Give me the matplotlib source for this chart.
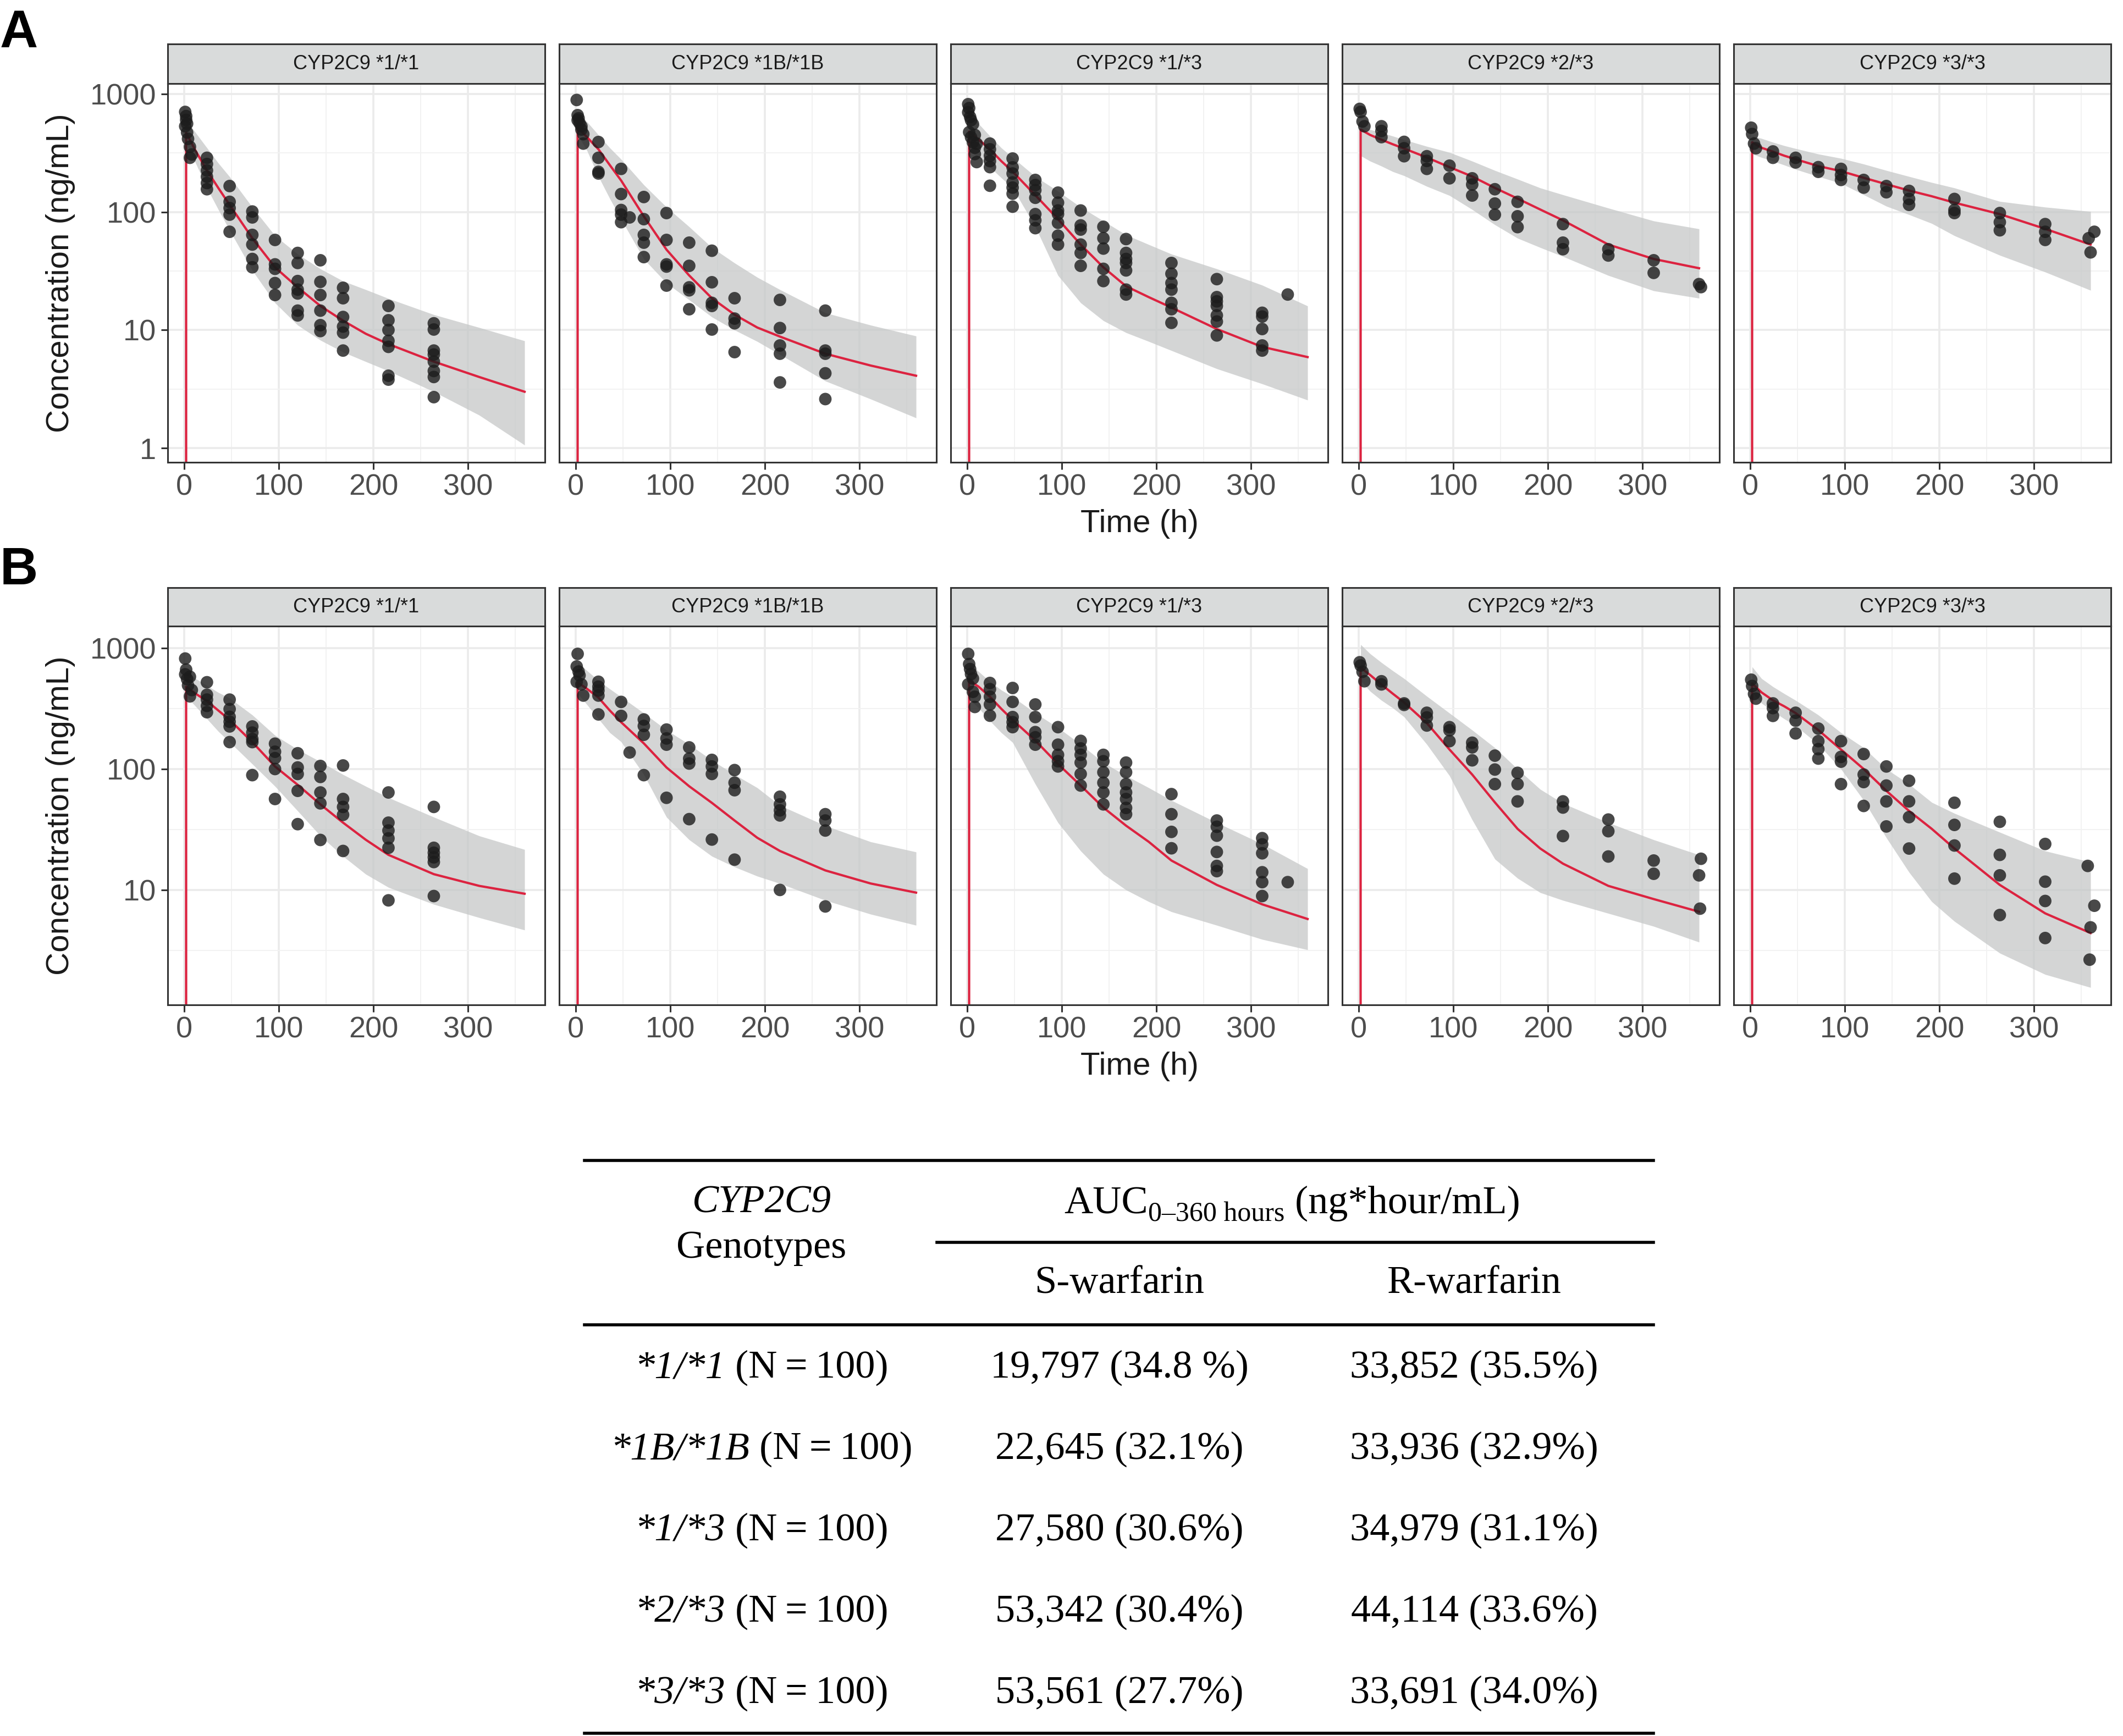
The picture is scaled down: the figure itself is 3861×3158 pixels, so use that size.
import matplotlib
matplotlib.use('Agg')
import matplotlib.pyplot as plt
from matplotlib.lines import Line2D
from matplotlib.ticker import FixedLocator, NullFormatter

plt.rcParams['font.family'] = ['Liberation Sans', 'DejaVu Sans']

# ---------------- data ----------------
GENOTYPES = ['CYP2C9 *1/*1', 'CYP2C9 *1B/*1B', 'CYP2C9 *1/*3', 'CYP2C9 *2/*3', 'CYP2C9 *3/*3']
X_TICKS = [0, 100, 200, 300]
X_MINOR = [50, 150, 250, 350]
Y_TICKS = [1, 10, 100, 1000]
Y_TICK_LABELS = ['1', '10', '100', '1000']
Y_MINOR = [10 ** -0.5, 10 ** 0.5, 10 ** 1.5, 10 ** 2.5, 10 ** 3.5]

CURVE_T = [0, 2, 12, 24, 36, 48, 72, 96, 120, 144, 168, 192, 216, 264, 312, 360]

# ---- Panel A (S-warfarin) ----
A1_OBS_T = [1, 2, 1, 3, 4, 6, 8, 6, 2, 3] + [24] * 6 + [48] * 5 + [72] * 6 + [96] * 5 + [120] * 7 + [144] * 6 + [168] * 6 + [216] * 7 + [264] * 8
A1_OBS_C = [705, 603, 533, 472, 417, 357, 307, 288, 650, 560, 288, 255, 225, 199, 176, 156, 166, 122, 108, 95, 68,
            101, 90, 64, 53, 40, 34, 58, 36, 33, 25, 19.8, 45, 37, 26, 22, 20.4, 14.6, 13.3, 39, 25.6, 19.8, 14.6, 11, 9.8,
            22.8, 18.6, 12.9, 10.7, 9.5, 6.7, 16, 12.1, 10, 8.1, 7.2, 4.1, 3.8, 11.4, 10.1, 6.7, 6.2, 5.4, 4.5, 4.0, 2.7]
A1_MED = [0, 470, 330, 225, 160, 115, 60, 34, 23, 16, 12, 9.3, 7.6, 5.4, 4.0, 3.0]
A1_LO = [380, 260, 160, 105, 70, 32, 17, 11, 8.2, 6.5, 5.4, 4.5, 3.0, 1.9, 1.06]
A1_HI = [600, 470, 350, 260, 199, 110, 63, 44, 33, 26, 22, 18.5, 13.5, 10.5, 8.1]

A2_OBS_T = [1, 2, 3, 4, 6, 8, 8, 2, 6] + [24] * 4 + [48] * 5 + [57] + [72] * 5 + [96] * 5 + [120] * 5 + [144] * 5 + [168] * 4 + [216] * 5 + [264] * 5
A2_OBS_C = [890, 662, 622, 568, 533, 457, 380, 600, 500, 392, 288, 219, 212, 232, 142, 104, 95, 82, 90,
            134, 87, 64, 55, 41.5, 98, 58, 36, 34.5, 23.8, 55, 35, 23, 21.7, 15, 47, 25.4, 17, 16, 10.1,
            18.6, 12.5, 11.4, 6.5, 18, 10.4, 7.4, 6.3, 3.6, 14.6, 6.7, 6.3, 4.3, 2.6]
A2_MED = [0, 520, 430, 340, 250, 185, 92, 48, 29, 18.6, 13.5, 10.5, 8.8, 6.3, 5.0, 4.1]
A2_LO = [450, 330, 200, 130, 87, 40, 25, 18, 12.9, 10, 8, 6.2, 3.7, 2.6, 1.8]
A2_HI = [680, 580, 450, 350, 280, 170, 110, 75, 50, 37, 28, 22, 14, 11, 8.9]

A3_OBS_T = [1, 2, 1, 3, 4, 6, 2, 4, 6, 8, 8, 10, 8, 10] + [24] * 6 + [48] * 7 + [72] * 7 + [96] * 7 + [120] * 6 + [144] * 5 + [168] * 7 + [216] * 7 + [264] * 7 + [312] * 5 + [339]
A3_OBS_C = [820, 760, 700, 640, 600, 555, 475, 430, 390, 350, 310, 265, 450, 380, 380, 340, 300, 270, 240, 167,
            284, 239, 212, 178, 161, 143, 111, 187, 169, 153, 132, 96, 85, 73, 146, 120, 103, 96, 81, 63, 53,
            103, 77, 71, 53, 45, 35, 75, 60, 49, 33, 26, 59, 45, 40, 37, 32, 22, 20, 37, 30, 25, 22, 17, 15, 11.5,
            27, 19, 17.5, 16, 13.3, 11.8, 9, 14, 13, 10.2, 7.4, 6.7, 20]
A3_MED = [0, 480, 411, 340, 270, 220, 139, 87, 53, 34, 23.5, 19, 15.5, 10.2, 7.2, 5.9]
A3_LO = [330, 290, 240, 195, 160, 75, 29, 17, 12, 9.5, 8.0, 6.7, 4.7, 3.5, 2.55]
A3_HI = [700, 560, 440, 350, 290, 200, 150, 110, 84, 64, 53, 44, 33, 24, 16]

A4_OBS_T = [1, 2, 4, 6] + [24] * 3 + [48] * 3 + [72] * 3 + [96] * 2 + [120] * 3 + [144] * 3 + [168] * 3 + [216] * 3 + [264] * 2 + [312] * 2 + [360, 362]
A4_OBS_C = [748, 705, 585, 533, 533, 486, 431, 393, 347, 297, 297, 271, 232, 247, 193, 193, 171, 138, 156, 118, 95,
            122, 92, 74.5, 79, 55, 48.4, 48.4, 42.8, 39, 30.5, 24.5, 23.1]
A4_MED = [0, 500, 450, 410, 375, 345, 290, 240, 200, 160, 130, 105, 85, 53, 40, 33.4]
A4_LO = [300, 270, 245, 220, 203, 165, 138, 105, 78, 60, 50, 42, 29, 21.5, 18.6]
A4_HI = [560, 500, 470, 440, 410, 360, 320, 270, 225, 190, 160, 140, 108, 84, 72]

A5_OBS_T = [1, 2, 4, 6] + [24] * 2 + [48] * 2 + [72] * 2 + [96] * 3 + [120] * 2 + [144] * 2 + [168] * 3 + [216] * 3 + [264] * 3 + [312] * 3 + [358, 360, 364]
A5_OBS_C = [518, 458, 380, 347, 326, 288, 288, 263, 240, 219, 232, 206, 187, 187, 161, 166, 147, 151, 129, 115,
            129, 104, 98, 98, 82, 70, 79, 68, 58, 60, 45.5, 68]
A5_MED = [0, 390, 350, 325, 300, 280, 245, 222, 195, 172, 152, 136, 120, 96, 72, 53]
A5_LO = [310, 290, 270, 250, 230, 200, 175, 140, 112, 95, 80, 63, 43, 31, 21.7]
A5_HI = [440, 420, 390, 365, 345, 310, 285, 255, 225, 200, 178, 160, 123, 110, 101]

# ---- Panel B (R-warfarin) ----
B1_OBS_T = [1, 2, 1, 3, 4, 6, 6, 8] + [24] * 5 + [48] * 6 + [72] * 5 + [96] * 5 + [120] * 5 + [144] * 5 + [168] * 5 + [216] * 6 + [264] * 6
B1_OBS_C = [820, 664, 607, 554, 492, 399, 580, 450, 522, 411, 375, 333, 295, 375, 313, 270, 246, 225, 167,
            225, 200, 177, 167, 89, 162, 139, 123, 100, 56.5, 135, 103, 91, 66, 35, 106, 86, 64, 52, 25.9,
            107, 56.5, 48.6, 41.8, 21, 64, 36, 31, 26.7, 22.3, 8.2, 48.6, 22.3, 20.3, 18.6, 17, 8.9]
B1_MED = [0, 480, 420, 365, 305, 255, 167, 105, 74, 51, 36, 26, 19.5, 13.5, 10.8, 9.3]
B1_LO = [400, 330, 260, 205, 167, 110, 72, 45, 28, 19, 13.5, 10.5, 7.6, 5.9, 4.66]
B1_HI = [650, 560, 490, 430, 386, 280, 190, 145, 115, 90, 72, 58, 40, 28, 21.6]

B2_OBS_T = [2, 1, 3, 4, 1, 6, 8] + [24] * 5 + [48] * 2 + [57] + [72] * 4 + [96] * 4 + [120] * 4 + [144] * 4 + [168] * 4 + [216] * 5 + [264] * 4
B2_OBS_C = [896, 705, 640, 595, 527, 502, 405, 527, 480, 446, 405, 283, 359, 275, 137, 257, 227, 192, 89,
            212, 179, 159, 57.8, 151, 122, 111, 38.5, 119, 105, 91, 26.1, 98, 77, 66.8, 17.8,
            59, 51, 45.5, 41.3, 10, 42.3, 37.5, 31, 7.3]
B2_MED = [0, 520, 460, 390, 305, 244, 163, 103, 72, 52.5, 37.5, 27, 21, 14.5, 11.3, 9.5]
B2_LO = [420, 340, 260, 200, 168, 90, 40, 26, 19, 15.5, 13, 11.3, 8.2, 6.3, 5.1]
B2_HI = [760, 650, 540, 460, 395, 290, 210, 160, 118, 90, 70, 50, 34, 25, 20.6]

B3_OBS_T = [1, 2, 3, 4, 1, 6, 8, 8, 6] + [24] * 5 + [48] * 5 + [72] * 5 + [96] * 5 + [120] * 6 + [144] * 6 + [168] * 7 + [216] * 4 + [264] * 6 + [312] * 6 + [339]
B3_OBS_C = [896, 738, 671, 610, 502, 435, 396, 326, 560, 515, 457, 396, 342, 276, 468, 359, 269, 244, 222,
            342, 269, 202, 183, 159, 222, 159, 131, 116, 105, 171, 148, 131, 113, 91, 73, 131, 116, 94, 77, 64, 51,
            113, 94, 75, 64, 56.5, 47.7, 42.3, 62, 42.3, 30.2, 22.1, 37.5, 33.3, 28.1, 20.6, 15.8, 14.3,
            26.8, 23.8, 20.1, 14, 11.6, 8.9, 11.6]
B3_MED = [0, 540, 480, 396, 315, 255, 172, 110, 73, 48, 34, 25, 17.5, 11, 7.6, 5.75]
B3_LO = [380, 320, 250, 200, 166, 75, 36, 21, 13.5, 10, 8, 6.6, 5.1, 3.9, 3.2]
B3_HI = [760, 640, 530, 450, 396, 290, 220, 160, 113, 88, 70, 55, 36, 24, 15]

B4_OBS_T = [1, 2, 4, 6] + [24] * 2 + [48] * 2 + [72] * 3 + [96] * 3 + [120] * 3 + [144] * 3 + [168] * 3 + [216] * 3 + [264] * 3 + [312] * 2 + [362, 360, 361]
B4_OBS_C = [764, 718, 637, 532, 532, 501, 349, 339, 292, 267, 229, 222, 209, 170, 165, 151, 118, 129, 99, 75,
            93, 75, 54, 54, 48, 27.9, 38.2, 30.6, 18.9, 17.5, 13.6, 18.1, 13.2, 7.0]
B4_MED = [0, 690, 600, 500, 420, 355, 240, 145, 90, 53, 32, 22, 16.5, 10.8, 8.4, 6.6]
B4_LO = [540, 440, 370, 320, 270, 160, 88, 38, 18, 12.5, 9.5, 8.2, 6.4, 5.0, 3.7]
B4_HI = [1070, 900, 760, 650, 560, 400, 290, 210, 150, 100, 68, 52, 36, 26, 19.5]

B5_OBS_T = [1, 2, 4, 6] + [24] * 3 + [48] * 3 + [72] * 4 + [96] * 4 + [120] * 4 + [144] * 4 + [168] * 4 + [216] * 4 + [264] * 4 + [312] * 4 + [357, 364, 360, 359]
B5_OBS_C = [548, 486, 418, 382, 349, 319, 275, 292, 251, 197, 216, 170, 146, 122, 170, 126, 115, 75,
            133, 90, 78, 49.5, 105, 73, 54, 33.5, 80, 54, 40, 22, 52.6, 34.5, 23.3, 12.4,
            36.6, 19.5, 13.2, 6.2, 24, 11.7, 8.1, 4.0, 15.8, 7.4, 4.9, 2.65]
B5_MED = [0, 510, 430, 370, 330, 290, 210, 145, 100, 66, 45, 32, 22, 11, 6.4, 4.4]
B5_LO = [430, 350, 300, 260, 228, 160, 100, 55, 27, 14, 8, 5.5, 3.0, 2.0, 1.56]
B5_HI = [700, 560, 480, 420, 370, 280, 200, 150, 100, 75, 53, 43, 30, 21, 17]

# ---- Table ----
TABLE_GENO = ['*1/*1', '*1B/*1B', '*1/*3', '*2/*3', '*3/*3']
TABLE_N = [100, 100, 100, 100, 100]
S_AUC = ['19,797 (34.8 %)', '22,645 (32.1%)', '27,580 (30.6%)', '53,342 (30.4%)', '53,561 (27.7%)']
R_AUC = ['33,852 (35.5%)', '33,936 (32.9%)', '34,979 (31.1%)', '44,114 (33.6%)', '33,691 (34.0%)']

ROWS = {
    'A': [(A1_OBS_T, A1_OBS_C, A1_MED, A1_LO, A1_HI), (A2_OBS_T, A2_OBS_C, A2_MED, A2_LO, A2_HI),
          (A3_OBS_T, A3_OBS_C, A3_MED, A3_LO, A3_HI), (A4_OBS_T, A4_OBS_C, A4_MED, A4_LO, A4_HI),
          (A5_OBS_T, A5_OBS_C, A5_MED, A5_LO, A5_HI)],
    'B': [(B1_OBS_T, B1_OBS_C, B1_MED, B1_LO, B1_HI), (B2_OBS_T, B2_OBS_C, B2_MED, B2_LO, B2_HI),
          (B3_OBS_T, B3_OBS_C, B3_MED, B3_LO, B3_HI), (B4_OBS_T, B4_OBS_C, B4_MED, B4_LO, B4_HI),
          (B5_OBS_T, B5_OBS_C, B5_MED, B5_LO, B5_HI)],
}

# ---------------- layout ----------------
W, H = 3862, 3158
DPI = 100
fig = plt.figure(figsize=(W / DPI, H / DPI), dpi=DPI)
fig.patch.set_facecolor('white')


def fx(px):
    return px / W


def fy(py):
    return 1 - py / H


LEFTS = [305, 1017, 1729, 2441, 3153]
PW = 686
ROW_GEOM = {'A': dict(strip_top=80, top=152, bottom=841, ylim=(0.757, 1226)),
            'B': dict(strip_top=1069, top=1139, bottom=1828, ylim=(1.12, 1520))}
DARK = '#333333'
RED = '#DC2340'

for key in ['A', 'B']:
    g = ROW_GEOM[key]
    for i, left in enumerate(LEFTS):
        obs_t, obs_c, med, lo, hi = ROWS[key][i]
        ax = fig.add_axes([fx(left), fy(g['bottom']), PW / W, (g['bottom'] - g['top']) / H])
        ax.set_yscale('log')
        ax.set_xlim(-17.5, 381.5)
        ax.set_ylim(*g['ylim'])
        ax.set_axisbelow(True)
        ax.fill_between(CURVE_T[1:], lo, hi, color='#C4C6C6', alpha=0.72, lw=0, zorder=1)
        ax.plot(CURVE_T, med, color=RED, lw=3.0, zorder=2, solid_joinstyle='round')
        ax.scatter(obs_t, obs_c, s=270, color='#1C1C1C', alpha=0.8, edgecolors='none', zorder=3)
        ax.set_xticks(X_TICKS)
        ax.set_xticklabels([str(v) for v in X_TICKS])
        ax.xaxis.set_minor_locator(FixedLocator(X_MINOR))
        ax.set_yticks(Y_TICKS)
        ax.set_yticklabels(Y_TICK_LABELS)
        ax.set_ylim(*g['ylim'])
        ax.yaxis.set_minor_locator(FixedLocator(Y_MINOR))
        ax.yaxis.set_minor_formatter(NullFormatter())
        ax.xaxis.set_minor_formatter(NullFormatter())
        ax.grid(which='major', color='#EBEBEB', lw=2.6)
        ax.grid(which='minor', color='#F2F2F2', lw=1.4)
        ax.tick_params(which='major', length=9, width=2.2, color=DARK, labelsize=39,
                       labelcolor='#4D4D4D', pad=6)
        ax.tick_params(which='minor', length=0)
        if i > 0:
            ax.tick_params(axis='y', left=False, labelleft=False)
        for sp in ax.spines.values():
            sp.set_color(DARK)
            sp.set_linewidth(2.2)
        # strip
        sax = fig.add_axes([fx(left), fy(g['top']), PW / W, (g['top'] - g['strip_top']) / H])
        sax.set_facecolor('#D9DBDB')
        sax.set_xticks([])
        sax.set_yticks([])
        for sp in sax.spines.values():
            sp.set_color(DARK)
            sp.set_linewidth(2.2)
        sax.text(0.5, 0.5, GENOTYPES[i], transform=sax.transAxes, ha='center', va='center',
                 fontsize=26, color='#1A1A1A')
    mid = (g['top'] + g['bottom']) / 2
    fig.text(fx(110), fy(mid), 'Concentration (ng/mL)', rotation=90, ha='center', va='center',
             fontsize=42, color='#1A1A1A')
    fig.text(fx(2072), fy(g['bottom'] + 112), 'Time (h)', ha='center', va='center',
             fontsize=42, color='#1A1A1A')

fig.text(fx(0), fy(86), 'A', fontsize=69, fontweight='bold', ha='left', va='baseline')
fig.text(fx(0), fy(1063), 'B', fontsize=69, fontweight='bold', ha='left', va='baseline')

# ---------------- table ----------------
SERIF = ['Liberation Serif', 'DejaVu Serif']
TS = 52
for (x0, x1, y) in [(1063, 3007, 2111), (1704, 3007, 2260), (1063, 3007, 2410), (1063, 3007, 3153)]:
    fig.add_artist(Line2D([fx(x0), fx(x1)], [fy(y), fy(y)], lw=4, color='black',
                          transform=fig.transFigure))

renderer = fig.canvas.get_renderer()


def mixed(parts, xc, yb):
    texts = []
    for s, style, size, dy in parts:
        t = fig.text(0, fy(yb + dy), s, family=SERIF, style=style, fontsize=size, ha='left',
                     va='baseline', color='black')
        texts.append(t)
    widths = [t.get_window_extent(renderer).width for t in texts]
    x = xc - sum(widths) / 2
    for t, w in zip(texts, widths):
        t.set_x(fx(x))
        x += w


COL_G, COL_S, COL_R = 1385, 2036, 2681
fig.text(fx(COL_G), fy(2184 + 21), 'CYP2C9', family=SERIF, style='italic', fontsize=TS,
         ha='center', va='baseline')
fig.text(fx(COL_G), fy(2267 + 21), 'Genotypes', family=SERIF, fontsize=TS, ha='center', va='baseline')
mixed([('AUC', 'normal', TS, 0), ('0\u2013360 hours', 'normal', 36, 14),
       (' (ng*hour/mL)', 'normal', TS, 0)], 2350, 2186 + 21)
fig.text(fx(COL_S), fy(2331 + 21), 'S-warfarin', family=SERIF, fontsize=TS, ha='center', va='baseline')
fig.text(fx(COL_R), fy(2331 + 21), 'R-warfarin', family=SERIF, fontsize=TS, ha='center', va='baseline')

for k in range(len(TABLE_GENO)):
    yb = 2485 + 148 * k + 21
    mixed([(TABLE_GENO[k], 'italic', TS, 0), (' (N\u2009=\u2009%d)' % TABLE_N[k], 'normal', TS, 0)], COL_G, yb)
    fig.text(fx(COL_S), fy(yb), S_AUC[k], family=SERIF, fontsize=TS, ha='center', va='baseline')
    fig.text(fx(COL_R), fy(yb), R_AUC[k], family=SERIF, fontsize=TS, ha='center', va='baseline')

fig.savefig('out.png', dpi=DPI, facecolor='white')
